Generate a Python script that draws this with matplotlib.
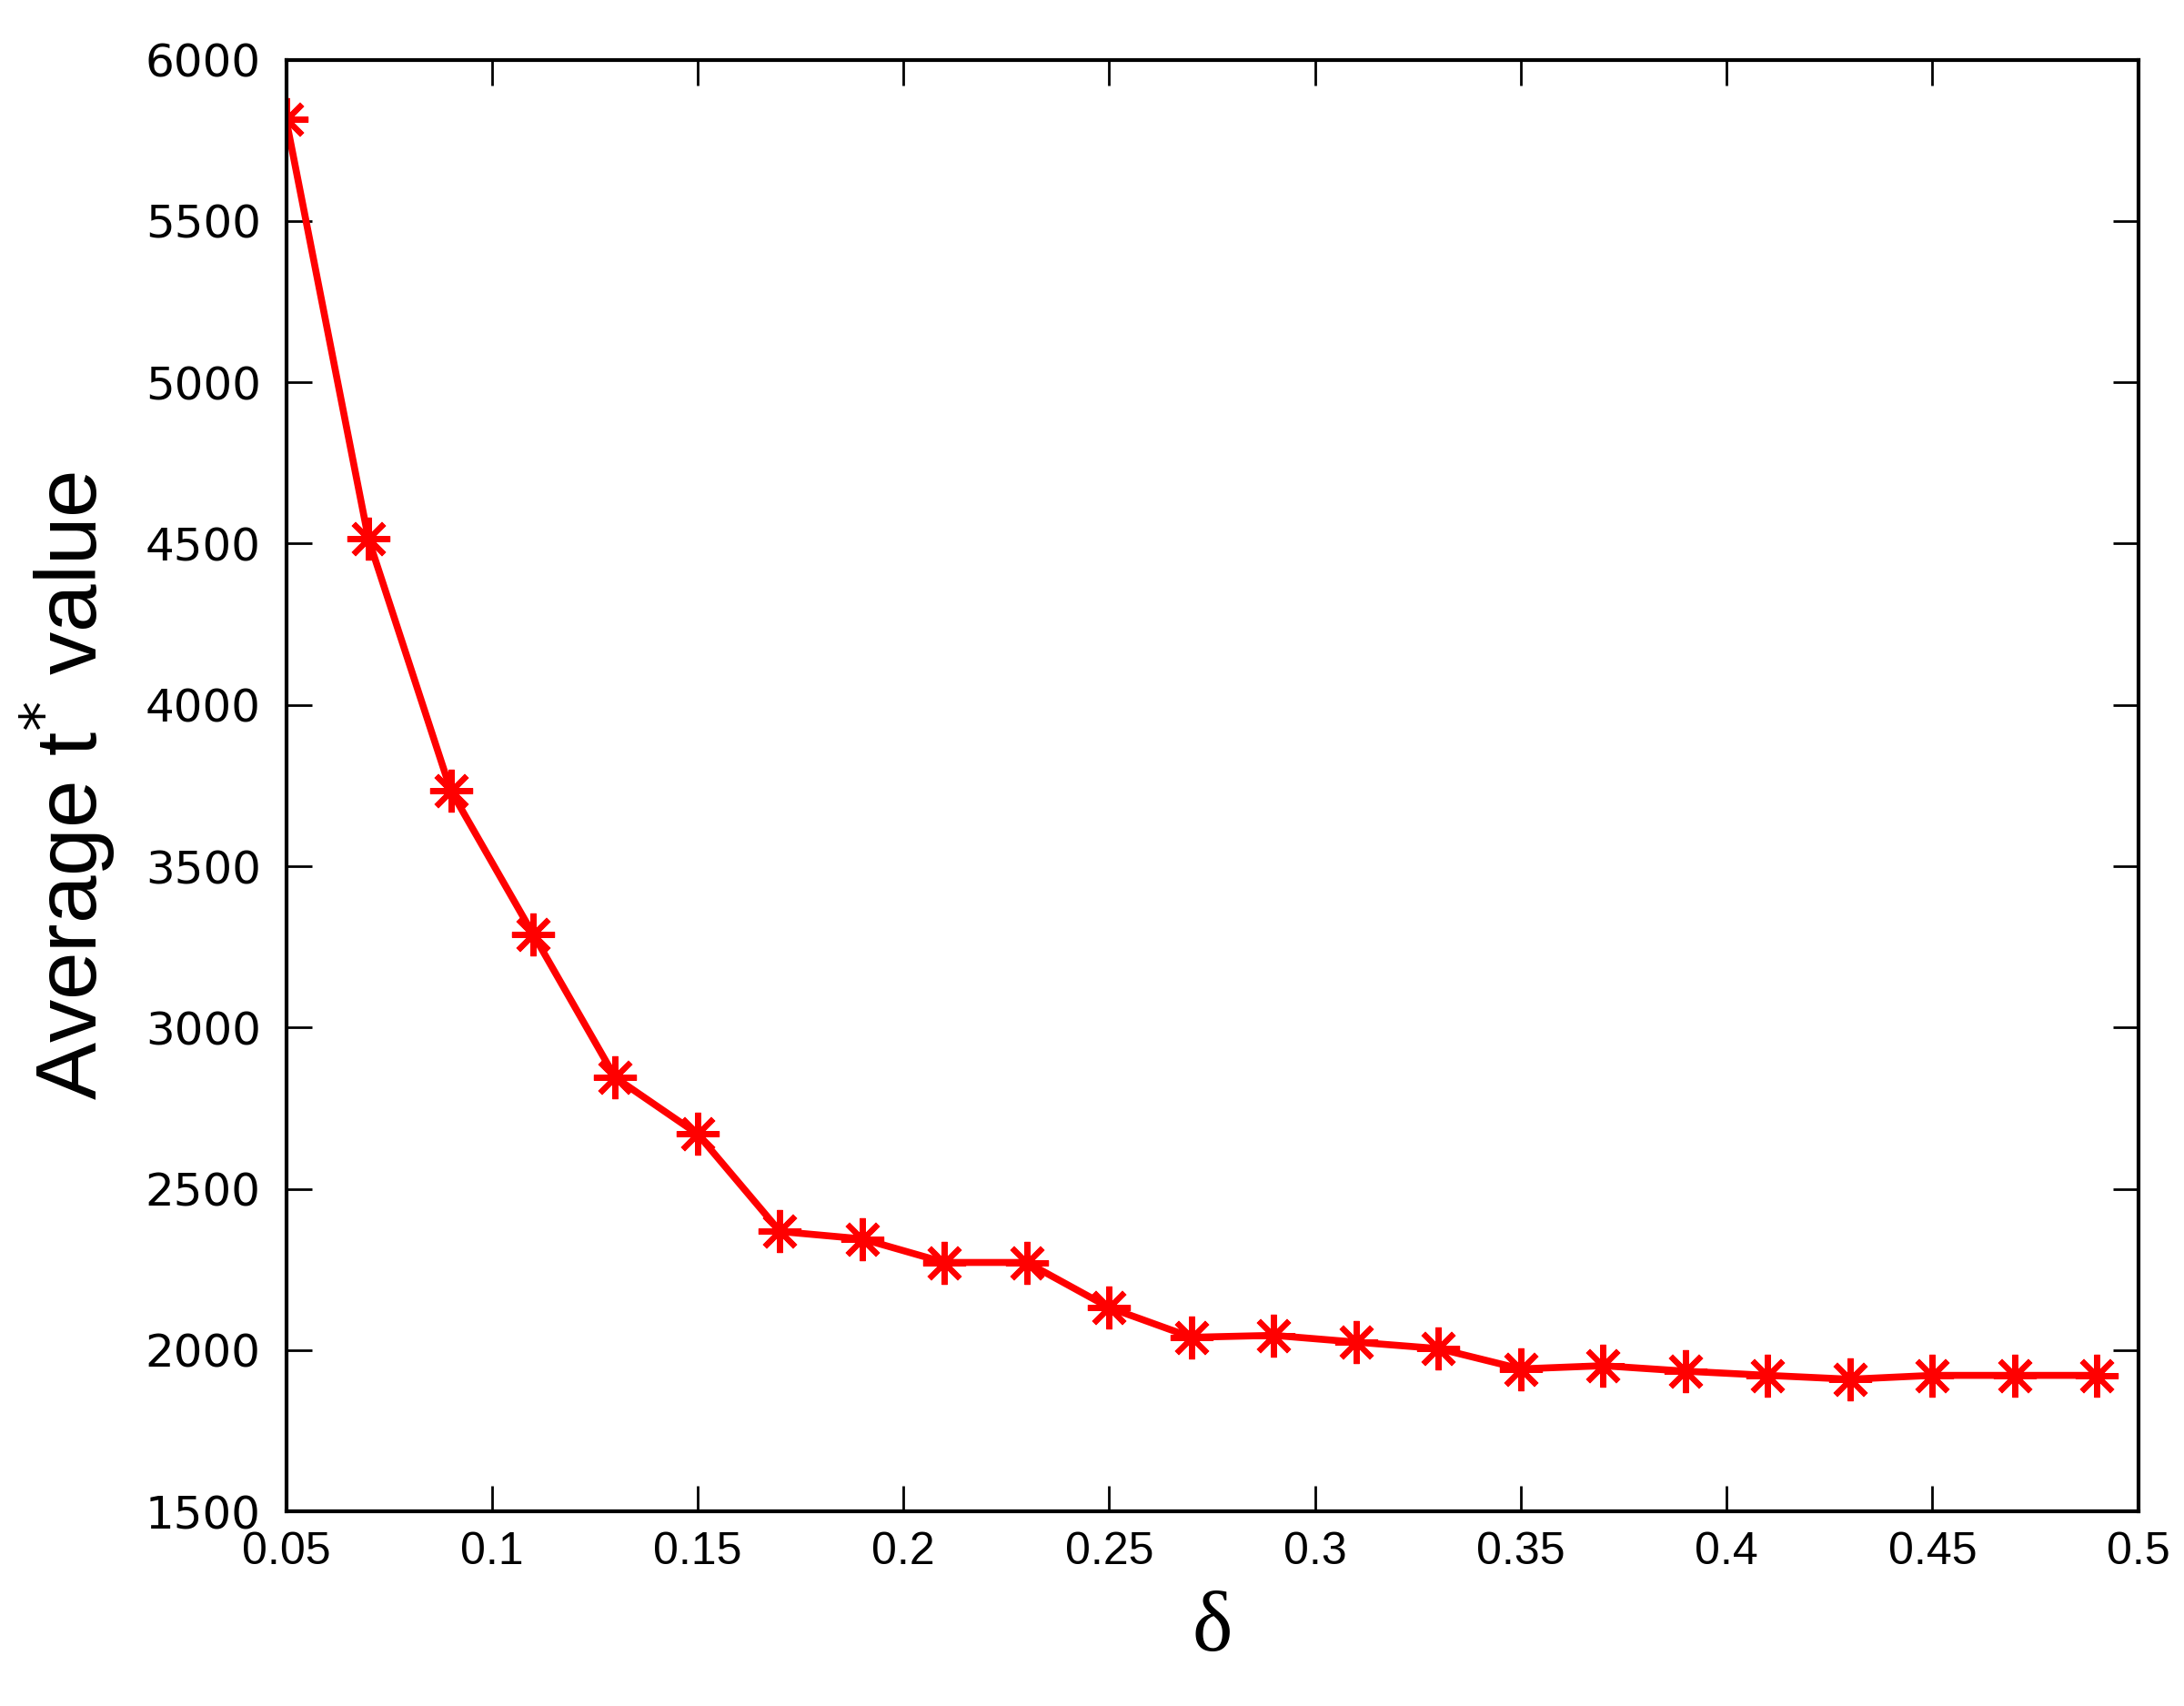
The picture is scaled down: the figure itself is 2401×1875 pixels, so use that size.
"""
Average t* value versus delta, MATLAB-style line plot with asterisk markers.
"""

import matplotlib.pyplot as plt

# === DATA ===
delta = [0.05, 0.07, 0.09, 0.11, 0.13, 0.15, 0.17, 0.19, 0.21, 0.23, 0.25, 0.27,
         0.29, 0.31, 0.33, 0.35, 0.37, 0.39, 0.41, 0.43, 0.45, 0.47, 0.49]
avg_t = [5815, 4515, 3735, 3290, 2845, 2670, 2368, 2345, 2272, 2272, 2132, 2040,
         2046, 2025, 2005, 1942, 1952, 1935, 1922, 1910, 1922, 1922, 1922]

x_ticks = [0.05, 0.1, 0.15, 0.2, 0.25, 0.3, 0.35, 0.4, 0.45, 0.5]
x_tick_labels = ['0.05', '0.1', '0.15', '0.2', '0.25', '0.3', '0.35', '0.4', '0.45', '0.5']
y_ticks = [1500, 2000, 2500, 3000, 3500, 4000, 4500, 5000, 5500, 6000]

RED = '#FF0000'

# === FIGURE ===
fig = plt.figure(figsize=(24.01, 18.75), dpi=100)
ax = fig.add_axes([0.131, 0.114, 0.848, 0.851])

ax.plot(delta, avg_t, color=RED, linewidth=5.5,
        marker=(8, 2, 0), markersize=34, markeredgewidth=4.5,
        markeredgecolor=RED, markerfacecolor=RED)

ax.set_xlim(0.05, 0.5)
ax.set_ylim(1500, 6000)
ax.set_xticks(x_ticks)
ax.set_xticklabels(x_tick_labels, family='Liberation Sans', fontsize=36)
ax.set_yticks(y_ticks)
ax.set_yticklabels([str(v) for v in y_ticks], family='DejaVu Sans', fontsize=36)

ax.tick_params(direction='in', length=20, width=2, top=True, right=True)
ax.tick_params(axis='x', pad=16)
ax.tick_params(axis='y', pad=20)
for sp in ax.spines.values():
    sp.set_linewidth(3)

ax.set_xlabel('δ', family='Liberation Serif', fontsize=68, labelpad=14)
ax.set_ylabel(r'Average t$^{*}$ value', family='Liberation Sans',
              fontsize=68, labelpad=22)

fig.savefig('out.png', dpi=100, facecolor='white')
